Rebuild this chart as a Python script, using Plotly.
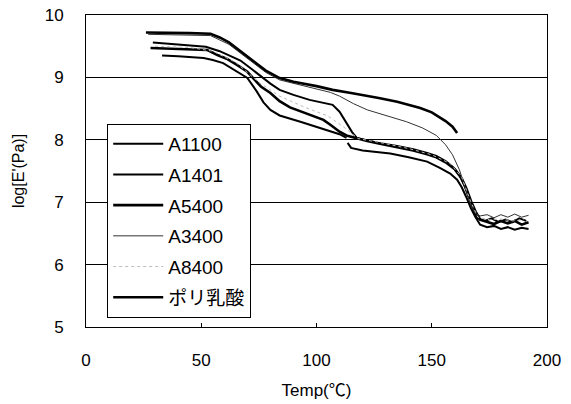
import plotly.graph_objects as go

# ---- data ----
series_names = ["A1100", "A1401", "A5400", "A3400", "A8400", "ポリ乳酸"]

# A1100
t_a1100 = [29, 40, 52, 58, 63, 67, 72, 77, 80, 84, 90, 97, 103, 107, 110, 113, 115.5, 117.5,
           122, 127, 135, 142, 148, 152, 156, 159, 162, 164, 166, 168, 170, 173, 176, 179, 182, 185, 188, 191]
e_a1100 = [9.56, 9.53, 9.49, 9.42, 9.34, 9.27, 9.13, 8.98, 8.90, 8.80, 8.72, 8.64, 8.59, 8.56, 8.45, 8.28, 8.12, 8.03,
           7.99, 7.95, 7.90, 7.85, 7.79, 7.74, 7.66, 7.57, 7.43, 7.28, 7.08, 6.88, 6.74, 6.70, 6.74, 6.68, 6.72, 6.68, 6.74, 6.70]

# A1401 (lowest curve, with a break near 113 C)
t_a1401 = [33, 40, 51, 55, 59.5, 63, 67, 70, 74, 77, 80, 84, 93, 100, 106, 110, 113, None,
           113.5, 115, 120, 127, 132, 140, 148, 153.5, 158, 161, 163, 165, 167, 169, 171, 174, 177, 180, 183, 186, 189, 192]
e_a1401 = [9.35, 9.34, 9.31, 9.28, 9.23, 9.15, 9.05, 8.99, 8.78, 8.60, 8.48, 8.39, 8.29, 8.21, 8.14, 8.09, 8.03, None,
           7.95, 7.87, 7.83, 7.80, 7.78, 7.72, 7.65, 7.55, 7.46, 7.36, 7.24, 7.08, 6.90, 6.76, 6.64, 6.60, 6.62, 6.57, 6.60, 6.56, 6.59, 6.57]

# A5400
t_a5400 = [28, 40, 52.5, 57, 61, 65.5, 70, 72.5, 76, 80, 84, 88.5, 95, 103, 106, 110, 113, 117.5,
           122, 127, 135, 142, 148, 152, 156, 160, 163, 165, 167, 169, 171, 174, 177, 180, 183, 186, 189, 192]
e_a5400 = [9.47, 9.46, 9.44, 9.36, 9.30, 9.20, 9.09, 8.99, 8.85, 8.75, 8.62, 8.52, 8.43, 8.32, 8.24, 8.13, 8.07, 8.02,
           7.98, 7.94, 7.88, 7.83, 7.77, 7.72, 7.64, 7.53, 7.38, 7.22, 7.02, 6.85, 6.72, 6.69, 6.65, 6.70, 6.66, 6.70, 6.64, 6.68]

# A3400 (thin line)
t_a3400 = [27, 40, 54, 62, 70, 78, 84, 92, 100, 106, 110, 116, 122, 130, 139, 146, 152, 156, 159, 162,
           164.5, 167, 169, 171, 174, 177, 180, 183, 186, 189, 192]
e_a3400 = [9.69, 9.68, 9.67, 9.53, 9.30, 9.08, 8.96, 8.89, 8.82, 8.76, 8.70, 8.58, 8.48, 8.39, 8.29, 8.19, 8.07, 7.92, 7.76, 7.52,
           7.22, 6.95, 6.82, 6.78, 6.80, 6.75, 6.80, 6.76, 6.81, 6.76, 6.79]

# A8400 (faint, largely hidden under the other curves)
t_a8400 = [30, 45, 55, 65, 75, 84, 95, 105, 112, 118, 127, 140, 150, 158, 163, 167, 170, 175, 180, 185, 190]
e_a8400 = [9.50, 9.48, 9.42, 9.24, 8.92, 8.70, 8.52, 8.38, 8.20, 8.02, 7.96, 7.86, 7.76, 7.62, 7.40, 7.00, 6.76, 6.72, 6.73, 6.70, 6.72]

# Poly(lactic acid)
t_pla = [26, 35, 45, 54, 58, 62, 66, 70, 74, 78, 84, 90, 100, 107, 115, 120, 127, 135, 140, 145, 150, 153, 156, 159, 161]
e_pla = [9.72, 9.72, 9.71, 9.70, 9.64, 9.56, 9.45, 9.33, 9.22, 9.11, 8.99, 8.93, 8.86, 8.80, 8.75, 8.72, 8.67, 8.61, 8.56, 8.51, 8.44, 8.37, 8.30, 8.21, 8.11]

x_ticks = [0, 50, 100, 150, 200]
y_ticks = [5, 6, 7, 8, 9, 10]

FONT = "Liberation Sans, Arial, Noto Sans CJK JP, sans-serif"

series = [
    ("A1100", t_a1100, e_a1100, dict(color="black", width=2)),
    ("A1401", t_a1401, e_a1401, dict(color="black", width=2)),
    ("A5400", t_a5400, e_a5400, dict(color="black", width=2.6)),
    ("A3400", t_a3400, e_a3400, dict(color="#333333", width=1)),
    ("A8400", t_a8400, e_a8400, dict(color="#bbbbbb", width=1, dash="dot")),
    ("ポリ乳酸", t_pla, e_pla, dict(color="black", width=2.6)),
]

fig = go.Figure()
for i, (name, xs, ys, ln) in enumerate(series):
    fig.add_trace(go.Scatter(x=xs, y=ys, mode="lines", name=name, line=ln,
                             legendgroup=f"g{i}", connectgaps=False))

fig.update_layout(
    width=571, height=404,
    margin=dict(l=86, r=24, t=15, b=77, autoexpand=False),
    paper_bgcolor="white", plot_bgcolor="white",
    font=dict(family=FONT, size=17, color="black"),
    showlegend=True,
    legend=dict(
        x=0.046, y=0.651, xanchor="left", yanchor="top",
        bgcolor="white", bordercolor="black", borderwidth=1,
        font=dict(family=FONT, size=19, color="black"),
        traceorder="grouped", tracegroupgap=3,
        itemwidth=50,
    ),
    xaxis=dict(
        range=[0, 200], tickvals=x_ticks, ticktext=[str(v) for v in x_ticks],
        showgrid=False, zeroline=False, automargin=False,
        showline=True, linecolor="black", linewidth=1, mirror=True,
        ticks="inside", ticklen=4, tickcolor="black",
        ticklabelstandoff=18, ticklabeloverflow="allow",
        tickfont=dict(size=17),
        title=dict(text="Temp(℃)", font=dict(size=17), standoff=14),
    ),
    yaxis=dict(
        range=[5, 10], tickvals=y_ticks, ticktext=[str(v) for v in y_ticks],
        showgrid=True, gridcolor="black", gridwidth=1, zeroline=False, automargin=False,
        showline=True, linecolor="black", linewidth=1, mirror=True,
        ticks="", ticklabelstandoff=18, ticklabeloverflow="allow",
        tickfont=dict(size=17),
        title=dict(text="log[E'(Pa)]", font=dict(size=16), standoff=16),
    ),
)

# remove the default 8px page margin so the figure sits at the window's corner
fig.write_html("out.html", config={"displayModeBar": False},
               post_script="document.body.style.margin='0';")
